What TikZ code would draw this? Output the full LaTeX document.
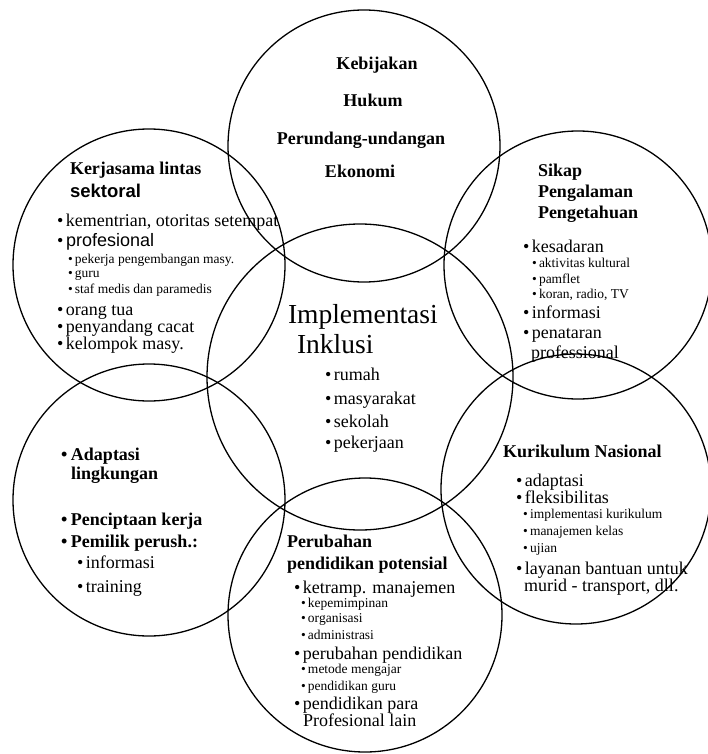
\documentclass[tikz,border=0pt]{standalone}
\usepackage{fontspec}
\setmainfont{Liberation Serif}
\newfontfamily\arialfam{Liberation Sans}
\newcommand\fsz[1]{\fontsize{#1}{#1}\selectfont}
\newcommand\bu{\makebox[9pt][l]{\textbullet}}
\newcommand\bs{\makebox[7pt][l]{\textbullet}}
\begin{document}
\begin{tikzpicture}[x=1pt,y=-1pt,
  ring/.style={circle,draw=black,line width=1.3pt,inner sep=0pt,minimum size=#1},
  txt/.style={anchor=base west,inner sep=0pt,outer sep=0pt,text=black},
  hd/.style={txt,font=\fsz{18}\bfseries},
  hdc/.style={hd,anchor=base},
  mn/.style={txt,font=\fsz{18}},
  sm/.style={txt,font=\fsz{13.5}},
  big/.style={txt,font=\fsz{27.5}}]
\useasboundingbox (0,0) rectangle (707,754);
\fill[white] (0,0) rectangle (707,754);
% circles
\node[ring=272pt] (cT) at (364,146) {};
\node[ring=272pt] (cUL) at (149,265) {};
\node[ring=268pt] (cUR) at (578,265) {};
\node[ring=306pt] (cC) at (360,377) {};
\node[ring=272pt] (cLL) at (149,500) {};
\node[ring=270pt] (cLR) at (576,489) {};
\node[ring=274pt] (cB) at (365,615) {};
% top
\node[hdc] (t1) at (377,70) {Kebijakan};
\node[hdc] (t2) at (373,107) {Hukum};
\node[hdc] (t3) at (361,145) {Perundang-undangan};
\node[hdc] (t4) at (360,178) {Ekonomi};
% upper left
\node[hd] (ul1) at (70,175) {Kerjasama lintas};
\node[txt,font=\arialfam\fsz{18.5}\bfseries] (ul2) at (70,197) {sektoral};
\node[mn] (ul3) at (57,226) {\bu kementrian, otoritas setempat};
\node[mn] (ul4) at (57,246) {\bu{\arialfam profesional}};
\node[sm] (ul5) at (68,263) {\bs pekerja pengembangan masy.};
\node[sm] (ul6) at (68,277) {\bs guru};
\node[sm] (ul7) at (68,293) {\bs staf medis dan paramedis};
\node[mn] (ul8) at (57,315) {\bu orang tua};
\node[mn] (ul9) at (57,332) {\bu penyandang cacat};
\node[mn] (ul10) at (57,349) {\bu kelompok masy.};
% upper right
\node[hd] (ur1) at (538,177) {Sikap};
\node[hd] (ur2) at (538,197) {Pengalaman};
\node[hd] (ur3) at (538,218) {Pengetahuan};
\node[mn] (ur4) at (523,252) {\bu kesadaran};
\node[sm] (ur5) at (532,267) {\bs aktivitas kultural};
\node[sm] (ur6) at (532,283) {\bs pamflet};
\node[sm] (ur7) at (532,298) {\bs koran, radio, TV};
\node[mn] (ur8) at (523,318) {\bu informasi};
\node[mn] (ur9) at (523,338) {\bu penataran};
\node[mn] (ur10) at (531,358) {professional};
% centre
\node[big] (c1) at (288,323) {Implementasi};
\node[big] (c2) at (297,353) {Inklusi};
\node[mn] (c3) at (325,380) {\bu rumah};
\node[mn] (c4) at (325,404) {\bu masyarakat};
\node[mn] (c5) at (325,427) {\bu sekolah};
\node[mn] (c6) at (325,448) {\bu pekerjaan};
% lower left
\node[hd] (ll1) at (61,460) {\makebox[10pt][l]{\textbullet}Adaptasi};
\node[hd] (ll2) at (71,479) {lingkungan};
\node[hd] (ll3) at (61,525) {\makebox[10pt][l]{\textbullet}Penciptaan kerja};
\node[hd] (ll4) at (61,547) {\makebox[10pt][l]{\textbullet}Pemilik perush.:};
\node[mn] (ll5) at (77,568) {\bu informasi};
\node[mn] (ll6) at (77,592) {\bu training};
% lower right
\node[hd] (lr1) at (503,457) {Kurikulum Nasional};
\node[mn] (lr2) at (516,486) {\bu adaptasi};
\node[mn] (lr3) at (516,503) {\bu fleksibilitas};
\node[sm] (lr4) at (523,518) {\bs implementasi kurikulum};
\node[sm] (lr5) at (523,535) {\bs manajemen kelas};
\node[sm] (lr6) at (523,552) {\bs ujian};
\node[mn] (lr7) at (516,574) {\bu layanan bantuan untuk};
\node[mn] (lr8) at (524,591.5) {murid - transport, dll.};
% bottom
\node[hd] (b1) at (287,547) {Perubahan};
\node[hd] (b2) at (287,569) {pendidikan potensial};
\node[mn] (b3) at (294,593) {\bu ketramp. manajemen};
\node[sm] (b4) at (301,607) {\bs kepemimpinan};
\node[sm] (b5) at (301,622) {\bs organisasi};
\node[sm] (b6) at (301,639) {\bs administrasi};
\node[mn] (b7) at (294,659) {\bu perubahan pendidikan};
\node[sm] (b8) at (301,673) {\bs metode mengajar};
\node[sm] (b9) at (301,690) {\bs pendidikan guru};
\node[mn] (b10) at (294,709) {\bu pendidikan para};
\node[mn] (b11) at (303,726.5) {Profesional lain};
\end{tikzpicture}
\end{document}
